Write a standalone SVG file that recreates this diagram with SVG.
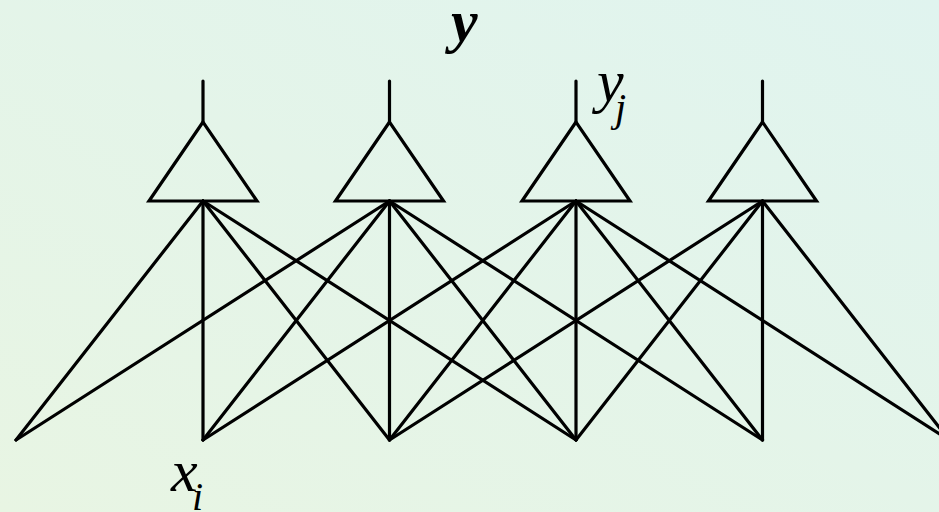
<svg xmlns="http://www.w3.org/2000/svg" width="939" height="512" viewBox="0 0 939 512">
  <defs>
    <linearGradient id="bg" x1="0" y1="1" x2="1" y2="0">
      <stop offset="0" stop-color="#e8f5e3"/>
      <stop offset="1" stop-color="#e0f4ef"/>
    </linearGradient>
    <style>
      .ln { stroke: #000; stroke-width: 3.2; fill: none; stroke-linecap: round; }
      .tri { stroke: #000; stroke-width: 3.2; fill: none; stroke-linejoin: miter; }
      .t { font-family: "Liberation Serif", "Times New Roman", serif; font-style: italic; fill: #000; }
    </style>
  </defs>
  <rect width="939" height="512" fill="url(#bg)"/>

  <g id="connectors" class="ln">
    <line x1="203" y1="201" x2="16" y2="440"/>
    <line x1="203" y1="201" x2="203" y2="440"/>
    <line x1="203" y1="201" x2="389.5" y2="440"/>
    <line x1="203" y1="201" x2="576" y2="440"/>
    <line x1="389.5" y1="201" x2="16" y2="440"/>
    <line x1="389.5" y1="201" x2="203" y2="440"/>
    <line x1="389.5" y1="201" x2="389.5" y2="440"/>
    <line x1="389.5" y1="201" x2="576" y2="440"/>
    <line x1="389.5" y1="201" x2="762.5" y2="440"/>
    <line x1="576" y1="201" x2="203" y2="440"/>
    <line x1="576" y1="201" x2="389.5" y2="440"/>
    <line x1="576" y1="201" x2="576" y2="440"/>
    <line x1="576" y1="201" x2="762.5" y2="440"/>
    <line x1="576" y1="201" x2="949" y2="440"/>
    <line x1="762.5" y1="201" x2="389.5" y2="440"/>
    <line x1="762.5" y1="201" x2="576" y2="440"/>
    <line x1="762.5" y1="201" x2="762.5" y2="440"/>
    <line x1="762.5" y1="201" x2="949" y2="440"/>
  </g>

  <g id="neuron1">
    <line class="ln" x1="203" y1="81" x2="203" y2="122"/>
    <polygon class="tri" points="203,122 149,201 257,201"/>
  </g>
  <g id="neuron2">
    <line class="ln" x1="389.5" y1="81" x2="389.5" y2="122"/>
    <polygon class="tri" points="389.5,122 335.5,201 443.5,201"/>
  </g>
  <g id="neuron3">
    <line class="ln" x1="576" y1="81" x2="576" y2="122"/>
    <polygon class="tri" points="576,122 522,201 630,201"/>
  </g>
  <g id="neuron4">
    <line class="ln" x1="762.5" y1="81" x2="762.5" y2="122"/>
    <polygon class="tri" points="762.5,122 708.5,201 816.5,201"/>
  </g>

  <g id="label-y">
    <text class="t" x="451" y="41" font-size="60" font-weight="bold">y</text>
  </g>
  <g id="label-yj">
    <text class="t" x="597" y="101" font-size="60">y</text>
    <text class="t" x="615" y="121" font-size="40">j</text>
  </g>
  <g id="label-xi">
    <text class="t" x="171" y="491" font-size="60">x</text>
    <text class="t" x="192" y="510" font-size="40">i</text>
  </g>
</svg>
